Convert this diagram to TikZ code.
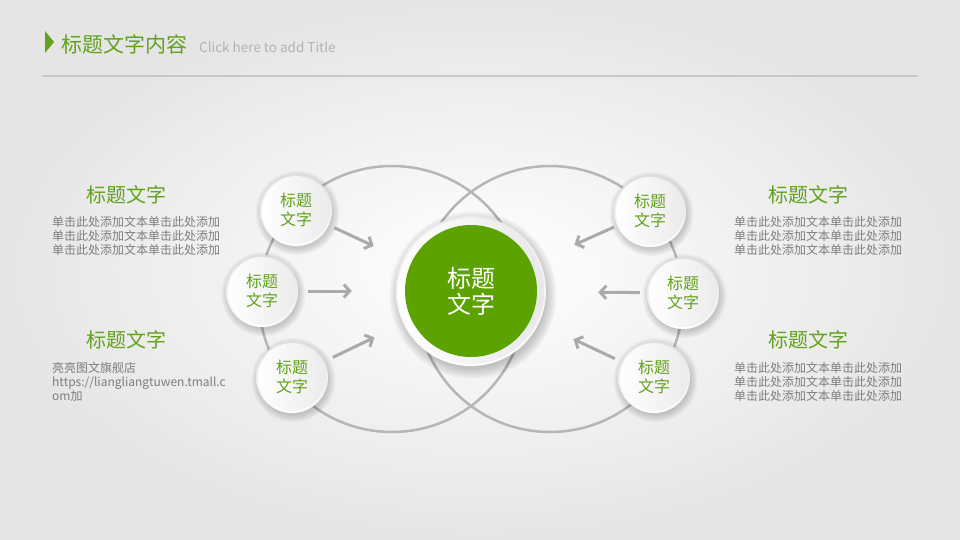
\documentclass[tikz,border=0pt]{standalone}
\usepackage{fontspec}
\newfontfamily\cjk{Noto Sans CJK SC}
\usetikzlibrary{arrows.meta,calc}
\definecolor{tgreen}{RGB}{98,162,28}
\definecolor{cgreen}{RGB}{92,162,0}
\definecolor{bodygray}{RGB}{125,125,125}
\definecolor{ringgray}{RGB}{182,182,182}
\definecolor{arrgray}{RGB}{170,170,170}
\definecolor{rulegray}{RGB}{200,200,200}
\definecolor{subgray}{RGB}{178,178,178}
\tikzset{
  bigring/.style={circle, draw=ringgray, line width=2.5pt, minimum size=266pt, inner sep=0pt},
  smallc/.style={circle, minimum size=72pt, inner sep=0pt, top color=black!13, bottom color=white,
    path picture={\shade[left color=white, right color=black!8]
      (path picture bounding box.center) circle (34pt);},
    font=\cjk\fontsize{16}{19.5}\selectfont, text=tgreen, align=center},
  centerring/.style={circle, minimum size=150pt, inner sep=0pt, top color=black!8, bottom color=white,
    path picture={\shade[left color=white, right color=black!9]
      (path picture bounding box.center) circle (73pt);}},
  centergreen/.style={circle, minimum size=132pt, inner sep=0pt, fill=cgreen,
    font=\cjk\fontsize{24}{26}\selectfont, text=white, align=center},
  arr/.style={draw=arrgray, line width=3pt, -{Straight Barb[length=6pt,width=13pt]}},
  head/.style={font=\cjk\fontsize{20}{24}\selectfont, text=tgreen, inner sep=0pt},
  body/.style={font=\cjk\fontsize{12}{13.7}\selectfont, text=bodygray, inner sep=0pt, align=left},
  softshade/.style={fill=black, opacity=0.03}
}
\begin{document}
\begin{tikzpicture}[x=1pt,y=-1pt]
\useasboundingbox (0,0) rectangle (960,540);
\shade[inner color=white, outer color=black!10] (0,0) rectangle (960,540);

% title bar
\fill[tgreen] (45,31) -- (54,42) -- (45,53) -- cycle;
\node[anchor=west, font=\cjk\fontsize{21}{24}\selectfont, text=tgreen, inner sep=0pt] (title) at (61,44) {标题文字内容};
\node[anchor=west, font=\cjk\fontsize{13.5}{16}\selectfont, text=subgray, inner sep=0pt] (subtitle) at (199,47) {Click here to add Title};
\draw[rulegray, line width=1.5pt] (42,76) -- (918,76);

% positions
\coordinate (pc) at (471,291);
\coordinate (pl1) at (296,210);
\coordinate (pl2) at (262,291);
\coordinate (pl3) at (292,377);
\coordinate (pr1) at (650,211);
\coordinate (pr2) at (683,293);
\coordinate (pr3) at (654,377);

% big rings
\node[bigring] (bigL) at (392,299) {};
\node[bigring] (bigR) at (550,299) {};

% soft shadows
\foreach \k in {0,1,...,6} {
  \fill[softshade] ($(pc)+(2,4)$) circle ({74+1.6*\k});
}
\foreach \p in {pl1,pl2,pl3,pr1,pr2,pr3} {
  \foreach \k in {0,1,...,5} {
    \fill[softshade] ($(\p)+(1.5,3)$) circle ({35.5+1.3*\k});
  }
}

% center
\node[centerring] (c) at (pc) {};
\node[centergreen] (cg) at (c.center) {标题\\文字};

% small circles
\node[smallc] (l1) at (pl1) {标题\\文字};
\node[smallc] (l2) at (pl2) {标题\\文字};
\node[smallc] (l3) at (pl3) {标题\\文字};
\node[smallc] (r1) at (pr1) {标题\\文字};
\node[smallc] (r2) at (pr2) {标题\\文字};
\node[smallc] (r3) at (pr3) {标题\\文字};

% arrows
\draw[arr, shorten <=6pt, shorten >=32pt] (l1) -- (c);
\draw[arr, shorten <=10pt, shorten >=44pt] (l2) -- (c);
\draw[arr, shorten <=9pt, shorten >=32pt] (l3) -- (c);
\draw[arr, shorten <=3pt, shorten >=38pt] (r1) -- (c);
\draw[arr, shorten <=7pt, shorten >=52pt] (r2) -- (c);
\draw[arr, shorten <=7pt, shorten >=38pt] (r3) -- (c);

% side texts
\node[head] (hl1) at (126,195) {标题文字};
\node[body, anchor=west] (bl1) at (52,236) {单击此处添加文本单击此处添加\\单击此处添加文本单击此处添加\\单击此处添加文本单击此处添加};
\node[head] (hl2) at (126,340) {标题文字};
\node[body, anchor=west] (bl2) at (52,382) {亮亮图文旗舰店\\https://liangliangtuwen.tmall.c\\om加};
\node[head] (hr1) at (808,195) {标题文字};
\node[body, anchor=west] (br1) at (734,236) {单击此处添加文本单击此处添加\\单击此处添加文本单击此处添加\\单击此处添加文本单击此处添加};
\node[head] (hr2) at (808,340) {标题文字};
\node[body, anchor=west] (br2) at (734,382) {单击此处添加文本单击此处添加\\单击此处添加文本单击此处添加\\单击此处添加文本单击此处添加};
\end{tikzpicture}
\end{document}
